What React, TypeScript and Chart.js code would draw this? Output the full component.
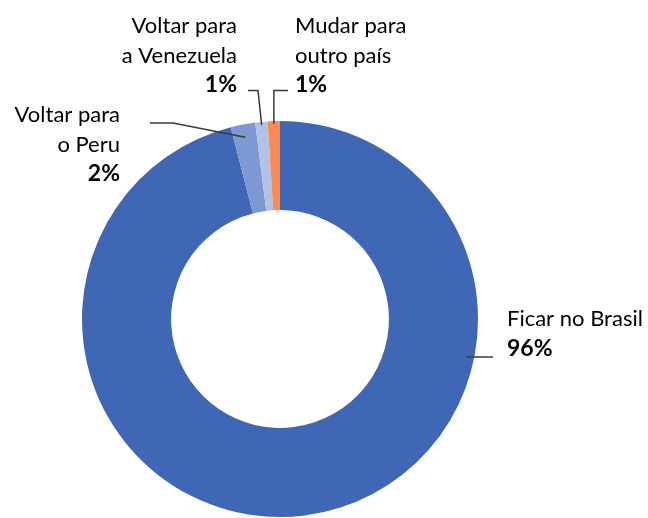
import React, { useEffect, useRef } from "react";
import { Chart, registerables } from "chart.js";

Chart.register(...registerables);

const categories = ["Ficar no Brasil", "Voltar para o Peru", "Voltar para a Venezuela", "Mudar para outro país"];
const values = [96, 2, 1, 1];
const percentLabels = ["96%", "2%", "1%", "1%"];
const labelLines = [["Ficar no Brasil"], ["Voltar para", "o Peru"], ["Voltar para", "a Venezuela"], ["Mudar para", "outro país"]];
const colors = ["#4066B6", "#7E99D1", "#B2C2E6", "#FF8A52"];

const FONT = "Lato, 'Open Sans', sans-serif";
const FONT_SIZE = 22;
const LINE_H = 29.5;

// label placement: text x, first baseline, alignment; leader-line elbow points
const labelLayout = [
  { x: 507, y: 326, align: "left", kind: "brasil", line: [493] },
  { x: 120, y: 122, align: "right", kind: "elbow", line: [150, 123, 173, 123], inset: 13 },
  { x: 237, y: 33, align: "right", kind: "elbow", line: [248, 90.5, 258, 90.5], inset: 3 },
  { x: 295, y: 33, align: "left", kind: "vertical", line: [288, 90.5], inset: 3 },
];

const labelPlugin = {
  id: "calloutLabels",
  afterDraw(chart: any) {
    const ctx = chart.ctx as CanvasRenderingContext2D;
    const meta = chart.getDatasetMeta(0);
    ctx.save();
    ctx.strokeStyle = "#3a3a3a";
    ctx.lineWidth = 1.5;
    ctx.fillStyle = "#000000";
    meta.data.forEach((arc: any, i: number) => {
      const p = arc.getProps(["x", "y", "startAngle", "endAngle", "outerRadius"], true);
      const L: any = labelLayout[i];
      const mid = (p.startAngle + p.endAngle) / 2;
      ctx.textAlign = L.align;
      ctx.textBaseline = "alphabetic";
      ctx.font = `400 ${FONT_SIZE}px ${FONT}`;
      const lines = labelLines[i];
      lines.forEach((t: string, k: number) => ctx.fillText(t, L.x, L.y + k * LINE_H));
      ctx.font = `700 ${FONT_SIZE + 1}px ${FONT}`;
      ctx.fillText(percentLabels[i], L.x, L.y + lines.length * LINE_H);
      ctx.beginPath();
      if (L.kind === "brasil") {
        const ly = L.y + LINE_H + 1.5;
        const dy = ly - p.y;
        const r = p.outerRadius - 8;
        const ax = p.x + Math.sqrt(Math.max(r * r - dy * dy, 0));
        ctx.moveTo(L.line[0], ly);
        ctx.lineTo(ax, ly);
      } else {
        const r = p.outerRadius - L.inset;
        const ax = p.x + Math.cos(mid) * r;
        const ay = p.y + Math.sin(mid) * r;
        if (L.kind === "elbow") {
          ctx.moveTo(L.line[0], L.line[1]);
          ctx.lineTo(L.line[2], L.line[3]);
          ctx.lineTo(ax, ay);
        } else {
          ctx.moveTo(L.line[0], L.line[1]);
          ctx.lineTo(ax, L.line[1]);
          ctx.lineTo(ax, ay);
        }
      }
      ctx.stroke();
    });
    ctx.restore();
  },
};

export default function App() {
  const ref = useRef<HTMLCanvasElement | null>(null);
  useEffect(() => {
    if (!ref.current) return;
    const chart = new Chart(ref.current, {
      type: "doughnut",
      data: {
        labels: categories,
        datasets: [
          {
            data: values,
            backgroundColor: colors,
            borderWidth: 0,
            hoverOffset: 0,
            offset: 0,
          },
        ],
      },
      options: {
        responsive: false,
        animation: false,
        cutout: "55%",
        layout: { padding: { left: 82, right: 170, top: 121, bottom: 1 } },
        plugins: { legend: { display: false }, tooltip: { enabled: false } },
        events: [],
      },
      plugins: [labelPlugin],
    });
    return () => chart.destroy();
  }, []);
  return (
    <div style={{ position: "absolute", left: 0, top: 0, width: 648, height: 518, background: "#ffffff" }}>
      <canvas ref={ref} width={648} height={518} style={{ display: "block", width: 648, height: 518 }} />
    </div>
  );
}
